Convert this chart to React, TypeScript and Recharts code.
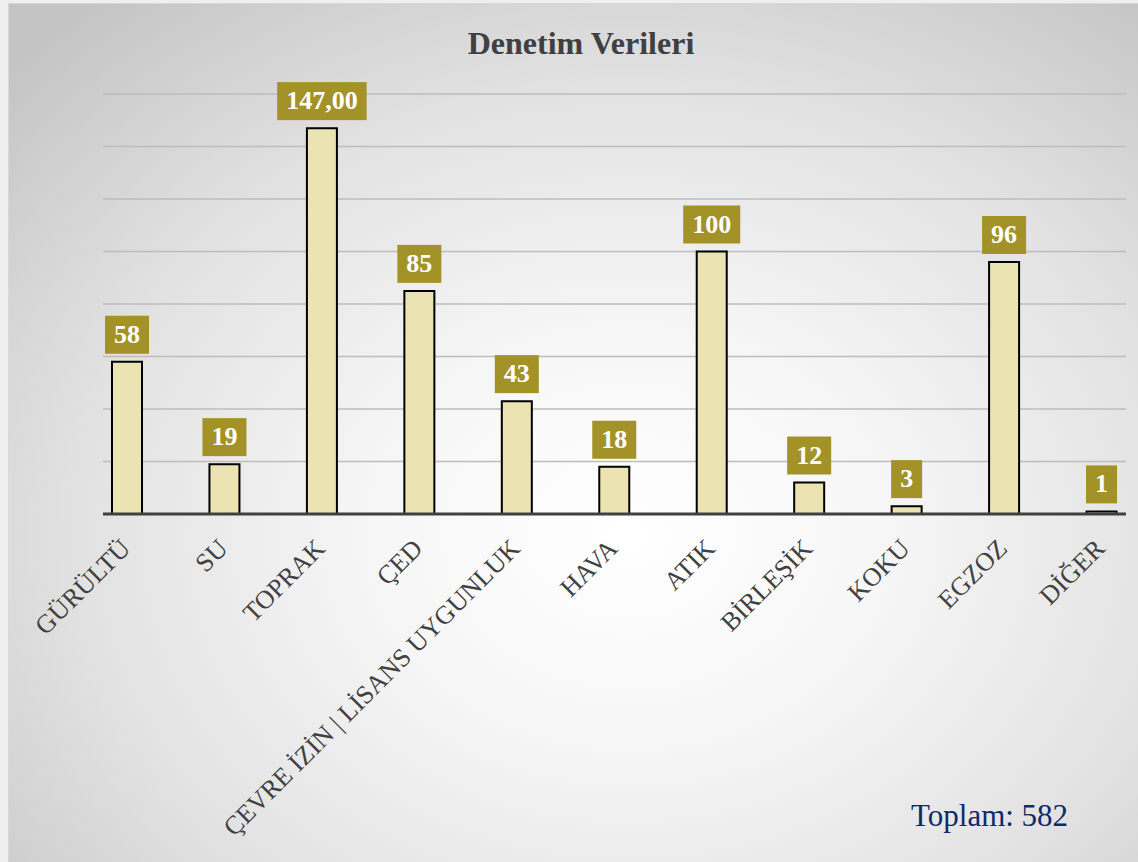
import { BarChart, Bar, XAxis, YAxis, CartesianGrid, LabelList } from "recharts";

const categories = [
  "GÜRÜLTÜ",
  "SU",
  "TOPRAK",
  "ÇED",
  "ÇEVRE İZİN | LİSANS UYGUNLUK",
  "HAVA",
  "ATIK",
  "BİRLEŞİK",
  "KOKU",
  "EGZOZ",
  "DİĞER",
];
const counts = [58, 19, 147, 85, 43, 18, 100, 12, 3, 96, 1];
const valueLabels = ["58", "19", "147,00", "85", "43", "18", "100", "12", "3", "96", "1"];
const yTicks = [0, 20, 40, 60, 80, 100, 120, 140, 160];
const totalText = "Toplam: 582";

const data = categories.map((name, i) => ({ name, value: counts[i], label: valueLabels[i] }));

const serif = '"Liberation Serif", "Times New Roman", serif';

function ValueBox(props: any) {
  const { x, y, width, index } = props;
  const text = valueLabels[index];
  let tw = 0;
  for (const ch of text) tw += ch === "," ? 6.5 : 13;
  const w = tw + 18;
  const h = 38;
  const cx = x + width / 2;
  const bottom = y - 8;
  return (
    <g>
      <rect x={cx - w / 2} y={bottom - h} width={w} height={h} fill="#A39228" />
      <text
        x={cx}
        y={bottom - 11}
        textAnchor="middle"
        fill="#ffffff"
        fontFamily={serif}
        fontWeight="bold"
        fontSize={26}
      >
        {text}
      </text>
    </g>
  );
}

function CategoryTick(props: any) {
  const { x, y, payload } = props;
  const ax = x + 5;
  const ay = y + 28;
  return (
    <text
      x={ax}
      y={ay}
      transform={`rotate(-45, ${ax}, ${ay})`}
      textAnchor="end"
      fill="#404040"
      fontFamily={serif}
      fontSize={26}
    >
      {payload.value}
    </text>
  );
}

export default function App() {
  return (
    <div
      style={{
        position: "absolute",
        left: 0,
        top: 0,
        width: 1138,
        height: 862,
        background: "#efefef",
        overflow: "hidden",
      }}
    >
      <div
        style={{
          position: "absolute",
          left: 8,
          top: 3,
          width: 1130,
          height: 859,
          borderTop: "1px solid #d8d8d8",
          borderLeft: "1px solid #d8d8d8",
          boxSizing: "border-box",
          background:
            "radial-gradient(ellipse 75% 80% at 55% 62%, #ffffff 0%, #f6f6f6 30%, #e2e2e2 65%, #c4c4c4 100%)",
        }}
      >
        <div
          style={{
            position: "absolute",
            left: 7,
            top: 21,
            width: 1130,
            textAlign: "center",
            fontFamily: serif,
            fontWeight: "bold",
            fontSize: 32,
            color: "#404040",
          }}
        >
          Denetim Verileri
        </div>
        <BarChart
          width={1130}
          height={859}
          data={data}
          margin={{ top: 90, right: 13, bottom: 319, left: 94 }}
          barSize={30}
        >
          <CartesianGrid vertical={false} stroke="#bdbdbd" strokeWidth={1.5} />
          <YAxis hide domain={[0, 160]} ticks={yTicks} />
          <XAxis
            dataKey="name"
            interval={0}
            tickLine={false}
            axisLine={{ stroke: "#404040", strokeWidth: 3 }}
            padding={{ left: -25, right: -24 }}
            tick={<CategoryTick />}
          />
          <Bar dataKey="value" fill="#ECE3B3" stroke="#000000" strokeWidth={2} isAnimationActive={false}>
            <LabelList dataKey="label" content={<ValueBox />} />
          </Bar>
        </BarChart>
        <div
          style={{
            position: "absolute",
            left: 902,
            top: 794,
            fontFamily: serif,
            fontSize: 31,
            color: "#0D2A6B",
          }}
        >
          {totalText}
        </div>
      </div>
    </div>
  );
}
